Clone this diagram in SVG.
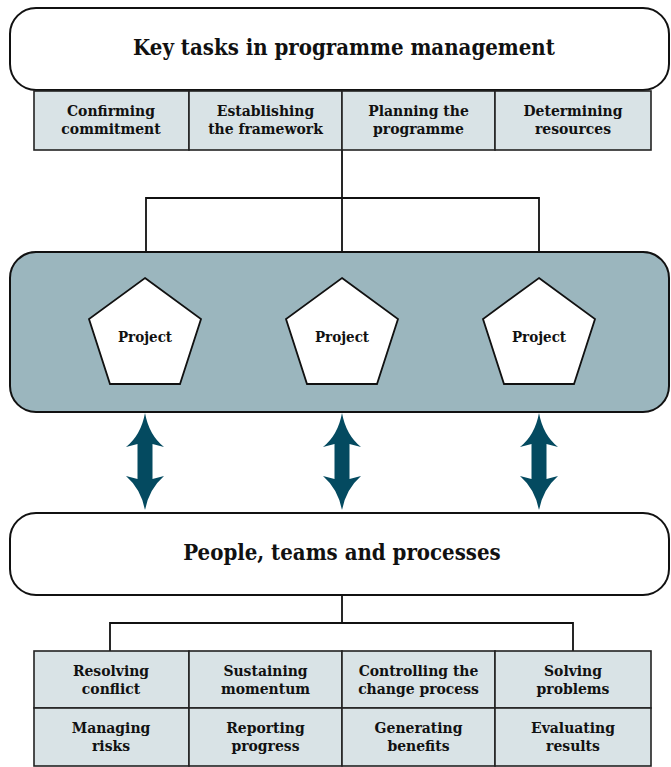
<svg xmlns="http://www.w3.org/2000/svg" xmlns:xlink="http://www.w3.org/1999/xlink" width="671" height="767" viewBox="0 0 671 767">
  <style>
    .box { fill: #ffffff; stroke: #111111; stroke-width: 2; }
    .panel { fill: #9bb6be; stroke: #111111; stroke-width: 2; }
    .cell { fill: #d9e3e6; stroke: #222222; stroke-width: 1.6; }
    .proj { fill: #ffffff; stroke: #111111; stroke-width: 1.8; }
    .line { fill: none; stroke: #111111; stroke-width: 1.8; }
    .arrow { fill: #044a60; }
    .title { font-family: "DejaVu Serif", "Liberation Serif", serif; font-stretch: condensed; font-weight: bold; font-size: 22px; fill: #111111; text-anchor: middle; }
    .lbl { font-family: "DejaVu Serif", "Liberation Serif", serif; font-stretch: condensed; font-weight: bold; font-size: 15.5px; fill: #111111; text-anchor: middle; }
    .plbl { font-size: 15px; }
  </style>
  <defs>
    <!-- pentagon centred on x=0, apex at y=0 -->
    <polygon id="pent" points="0,0 56,41 35,106 -35,106 -56,41"/>
    <!-- double-headed arrow centred on x=0 -->
    <path id="dblarrow" d="M0,413 Q4,435 19,447 L7.5,444 L7.5,479 L19,476 Q4,489 0,510 Q-4,489 -19,476 L-7.5,479 L-7.5,444 L-19,447 Q-4,435 0,413 Z"/>
  </defs>

  <!-- connectors -->
  <g id="connectors">
    <path class="line" d="M342,150 V198 M146,278 V198 H539 V278 M342,198 V278"/>
    <path class="line" d="M342,595 V623 M110,651 V623 H573 V651"/>
    <use xlink:href="#dblarrow" class="arrow" x="145"/>
    <use xlink:href="#dblarrow" class="arrow" x="342"/>
    <use xlink:href="#dblarrow" class="arrow" x="539"/>
  </g>

  <g id="key-tasks">
    <rect class="box" x="10" y="8" width="659" height="82" rx="26"/>
    <text class="title" x="344" y="55">Key tasks in programme management</text>
  </g>

  <g id="task-confirming">
    <rect class="cell" x="34" y="91" width="155" height="59"/>
    <text class="lbl" x="111" y="116">Confirming</text>
    <text class="lbl" x="111" y="134">commitment</text>
  </g>
  <g id="task-establishing">
    <rect class="cell" x="189" y="91" width="153" height="59"/>
    <text class="lbl" x="265.5" y="116">Establishing</text>
    <text class="lbl" x="265.5" y="134">the framework</text>
  </g>
  <g id="task-planning">
    <rect class="cell" x="342" y="91" width="153" height="59"/>
    <text class="lbl" x="418.5" y="116">Planning the</text>
    <text class="lbl" x="418.5" y="134">programme</text>
  </g>
  <g id="task-determining">
    <rect class="cell" x="495" y="91" width="156" height="59"/>
    <text class="lbl" x="573" y="116">Determining</text>
    <text class="lbl" x="573" y="134">resources</text>
  </g>

  <g id="projects-panel">
    <rect class="panel" x="10" y="252" width="659" height="160" rx="26"/>
  </g>
  <g id="project-1">
    <use xlink:href="#pent" class="proj" x="145" y="278"/>
    <text class="lbl plbl" x="145" y="342">Project</text>
  </g>
  <g id="project-2">
    <use xlink:href="#pent" class="proj" x="342" y="278"/>
    <text class="lbl plbl" x="342" y="342">Project</text>
  </g>
  <g id="project-3">
    <use xlink:href="#pent" class="proj" x="539" y="278"/>
    <text class="lbl plbl" x="539" y="342">Project</text>
  </g>

  <g id="people">
    <rect class="box" x="10" y="513" width="659" height="82" rx="26"/>
    <text class="title" x="342" y="560">People, teams and processes</text>
  </g>

  <g id="resolving-conflict">
    <rect class="cell" x="34" y="651" width="155" height="57"/>
    <text class="lbl" x="111" y="676">Resolving</text>
    <text class="lbl" x="111" y="694">conflict</text>
  </g>
  <g id="sustaining-momentum">
    <rect class="cell" x="189" y="651" width="153" height="57"/>
    <text class="lbl" x="265.5" y="676">Sustaining</text>
    <text class="lbl" x="265.5" y="694">momentum</text>
  </g>
  <g id="controlling-change">
    <rect class="cell" x="342" y="651" width="153" height="57"/>
    <text class="lbl" x="418.5" y="676">Controlling the</text>
    <text class="lbl" x="418.5" y="694">change process</text>
  </g>
  <g id="solving-problems">
    <rect class="cell" x="495" y="651" width="156" height="57"/>
    <text class="lbl" x="573" y="676">Solving</text>
    <text class="lbl" x="573" y="694">problems</text>
  </g>
  <g id="managing-risks">
    <rect class="cell" x="34" y="708" width="155" height="58"/>
    <text class="lbl" x="111" y="733">Managing</text>
    <text class="lbl" x="111" y="751">risks</text>
  </g>
  <g id="reporting-progress">
    <rect class="cell" x="189" y="708" width="153" height="58"/>
    <text class="lbl" x="265.5" y="733">Reporting</text>
    <text class="lbl" x="265.5" y="751">progress</text>
  </g>
  <g id="generating-benefits">
    <rect class="cell" x="342" y="708" width="153" height="58"/>
    <text class="lbl" x="418.5" y="733">Generating</text>
    <text class="lbl" x="418.5" y="751">benefits</text>
  </g>
  <g id="evaluating-results">
    <rect class="cell" x="495" y="708" width="156" height="58"/>
    <text class="lbl" x="573" y="733">Evaluating</text>
    <text class="lbl" x="573" y="751">results</text>
  </g>
</svg>
